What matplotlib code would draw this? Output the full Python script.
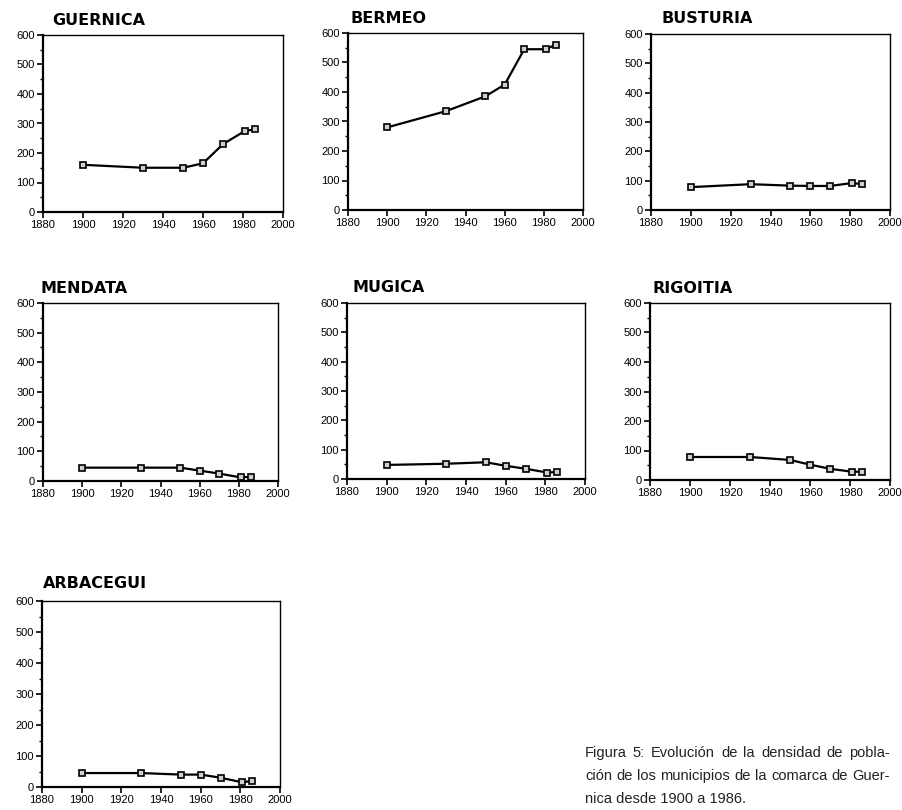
import numpy as np
import matplotlib
matplotlib.use("Agg")
import matplotlib.pyplot as plt
from matplotlib.ticker import MultipleLocator

# census years and population density per municipality
years = [1900, 1930, 1950, 1960, 1970, 1981, 1986]
guernica = [160, 150, 150, 165, 230, 275, 280]
bermeo = [280, 335, 385, 425, 545, 545, 560]
busturia = [78, 88, 83, 82, 82, 92, 88]
mendata = [45, 45, 45, 35, 25, 12, 14]
mugica = [48, 52, 57, 45, 35, 22, 24]
rigoitia = [78, 78, 68, 52, 38, 28, 28]
arbacegui = [45, 45, 40, 40, 30, 15, 20]

names = ["GUERNICA", "BERMEO", "BUSTURIA", "MENDATA", "MUGICA", "RIGOITIA", "ARBACEGUI"]
series = [guernica, bermeo, busturia, mendata, mugica, rigoitia, arbacegui]
x_ticks = [1880, 1900, 1920, 1940, 1960, 1980, 2000]

caption_lines = [
    "Figura 5: Evolución de la densidad de pobla-",
    "ción de los municipios de la comarca de Guer-",
    "nica desde 1900 a 1986.",
]

W, H = 903, 810
fig = plt.figure(figsize=(W / 100, H / 100), dpi=100)

# panel boxes in pixels: left, top, right, bottom
boxes = [
    (43, 35, 283, 212),
    (348, 33, 583, 210),
    (651, 34, 890, 210),
    (43, 303, 278, 481),
    (347, 303, 585, 479),
    (650, 303, 890, 480),
    (42, 601, 280, 787),
]
# title position in pixels (left, baseline)
title_pos = [(52, 25), (350, 23), (662, 23), (40, 293), (353, 292), (652, 293), (43, 588)]

font = ["Liberation Sans", "DejaVu Sans"]

for name, vals, (l, t, r, b), (tx, ty) in zip(names, series, boxes, title_pos):
    ax = fig.add_axes([l / W, 1 - b / H, (r - l) / W, (b - t) / H])
    ax.plot(years, vals, color="black", lw=1.6, marker="s", ms=4.8,
            mfc="#d0d0d0", mec="black", mew=1.2)
    ax.set_xlim(1880, 2000)
    ax.set_ylim(0, 600)
    ax.set_xticks(x_ticks)
    ax.yaxis.set_major_locator(MultipleLocator(100))
    ax.yaxis.set_minor_locator(MultipleLocator(50))
    ax.tick_params(axis="x", direction="out", length=4, width=1.2, pad=1.5)
    ax.tick_params(axis="y", which="major", direction="out", length=4, width=1.2, pad=2)
    ax.tick_params(axis="y", which="minor", direction="out", length=2, width=1)
    for lab in ax.get_xticklabels() + ax.get_yticklabels():
        lab.set_fontfamily(font)
        lab.set_fontsize(8)
    ax.spines["left"].set_linewidth(1.6)
    ax.spines["bottom"].set_linewidth(1.6)
    ax.spines["top"].set_linewidth(1.0)
    ax.spines["right"].set_linewidth(1.0)
    fig.text(tx / W, 1 - ty / H, name, fontsize=11.5, fontweight="bold",
             family=["DejaVu Sans"], ha="left", va="baseline")

# justified caption
cap_left, cap_right = 585, 890
cap_y = [757, 780, 803]
cap_font = ["Liberation Sans", "DejaVu Sans"]
fig.canvas.draw()
renderer = fig.canvas.get_renderer()
for i, (line, yb) in enumerate(zip(caption_lines, cap_y)):
    y = 1 - yb / H
    if i == len(caption_lines) - 1:
        fig.text(cap_left / W, y, line, fontsize=10.5, family=cap_font,
                 ha="left", va="baseline", color="#222222")
        continue
    words = line.split(" ")
    texts = [fig.text(0, y, w, fontsize=10.5, family=cap_font, ha="left",
                      va="baseline", color="#222222") for w in words]
    widths = [t.get_window_extent(renderer).width for t in texts]
    gap = (cap_right - cap_left - sum(widths)) / (len(words) - 1)
    x = cap_left
    for t, w in zip(texts, widths):
        t.set_x(x / W)
        x += w + gap

fig.savefig("out.png", dpi=100)
